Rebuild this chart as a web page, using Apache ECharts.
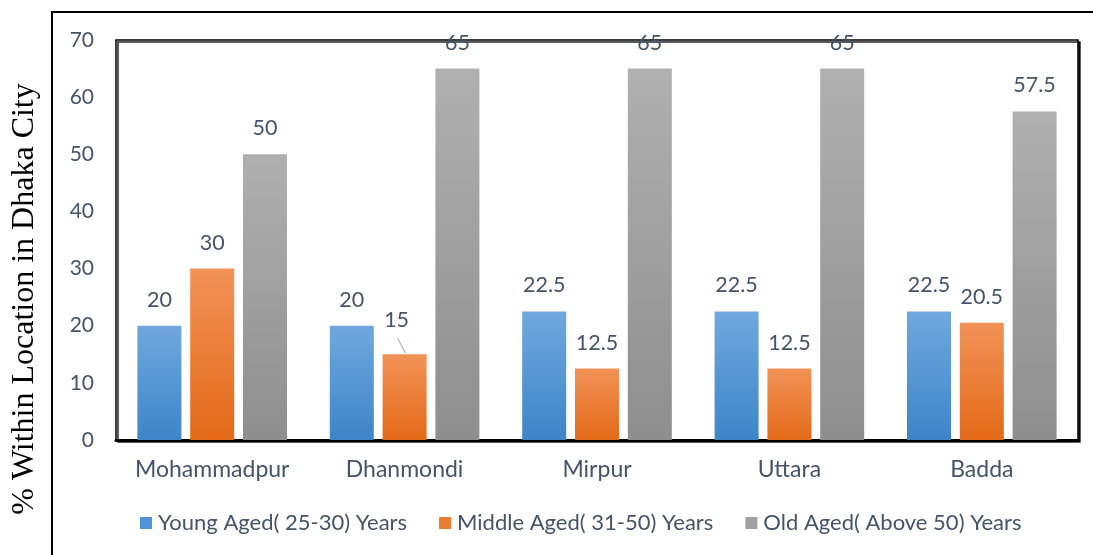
<!DOCTYPE html>
<html>
<head>
<meta charset="utf-8">
<script src="https://cdn.jsdelivr.net/npm/echarts@6/dist/echarts.min.js"></script>
<style>
  html, body { margin: 0; padding: 0; background: #fff; }
  #chart { width: 1093px; height: 555px; }
</style>
</head>
<body>
<div id="chart"></div>
<script>
// Survey share by age group for each area of Dhaka
const locations = ['Mohammadpur', 'Dhanmondi', 'Mirpur', 'Uttara', 'Badda'];
const youngAged = [20, 20, 22.5, 22.5, 22.5];
const middleAged = [30, 15, 12.5, 12.5, 20.5];
const oldAged = [50, 65, 65, 65, 57.5];
const seriesNames = ['Young Aged( 25-30) Years', 'Middle Aged( 31-50) Years', 'Old Aged( Above 50) Years'];
const yTicks = { min: 0, max: 70, interval: 10 };

const textColor = '#44546A';
const font = 'Lato';

function grad(top, bottom) {
  return new echarts.graphic.LinearGradient(0, 0, 0, 1, [
    { offset: 0, color: top },
    { offset: 1, color: bottom }
  ]);
}

const palette = [
  grad('#70A8DE', '#3D85C8'),
  grad('#F29257', '#E36A18'),
  grad('#B0B0B0', '#8E8E8E')
];
const legendColors = ['#4E94D6', '#EC7C30', '#A0A0A0'];

function barSeries(name, values, idx) {
  return {
    name: name,
    type: 'bar',
    data: values,
    barWidth: 44,
    barGap: '20%',
    itemStyle: { color: palette[idx] },
    label: {
      show: true,
      position: 'top',
      distance: 15,
      color: textColor,
      fontFamily: font,
      fontSize: 21.5
    }
  };
}

// index of the Middle Aged label that sits lifted off its bar
const liftedIndex = 1;
const middle = barSeries(seriesNames[1], middleAged, 1);
middle.labelLayout = function (p) {
  return p.dataIndex === liftedIndex ? { dx: -8, dy: -8 } : {};
};

const chart = echarts.init(document.getElementById('chart'), null, { renderer: 'canvas' });
chart.setOption({
  backgroundColor: '#fff',
  animation: false,
  color: legendColors,
  grid: {
    left: 116, right: 15, top: 40, bottom: 115,
    show: true,
    backgroundColor: '#fff',
    borderColor: '#000',
    borderWidth: 1.5,
    shadowColor: 'rgba(0,0,0,0.85)',
    shadowOffsetX: 2,
    shadowOffsetY: 2,
    shadowBlur: 0
  },
  legend: {
    left: 135,
    top: 507,
    itemWidth: 12,
    itemHeight: 12,
    itemGap: 32,
    icon: 'rect',
    textStyle: { color: textColor, fontFamily: font, fontSize: 22, padding: [0, 0, 0, 1] },
    data: seriesNames.map((n, i) => ({ name: n, itemStyle: { color: legendColors[i] } }))
  },
  xAxis: {
    type: 'category',
    data: locations,
    axisLine: { show: true, lineStyle: { color: '#000', width: 3 } },
    axisTick: { show: false },
    axisLabel: { interval: 0, color: textColor, fontFamily: font, fontSize: 23, margin: 18 }
  },
  yAxis: {
    type: 'value',
    min: yTicks.min,
    max: yTicks.max,
    interval: yTicks.interval,
    splitLine: { show: false },
    axisLine: { show: false },
    axisTick: { show: false },
    axisLabel: { color: textColor, fontFamily: font, fontSize: 21, margin: 22 }
  },
  graphic: [
    {
      type: 'rect',
      shape: { x: 52, y: 12, width: 1100, height: 700 },
      style: { fill: 'none', stroke: '#000', lineWidth: 2 },
      z: 0
    },
    {
      type: 'text',
      x: 25, y: 299,
      rotation: Math.PI / 2,
      style: {
        text: '% Within Location in Dhaka City',
        fill: '#000',
        font: '32px "Liberation Serif", "Times New Roman", serif',
        textAlign: 'center',
        textVerticalAlign: 'middle'
      }
    }
  ],
  series: [
    barSeries(seriesNames[0], youngAged, 0),
    middle,
    barSeries(seriesNames[2], oldAged, 2)
  ]
});

// leader line from the lifted label down to the top of its bar, placed from the bar's own layout
const barLayout = chart.getModel().getSeriesByIndex(1).getData().getItemLayout(liftedIndex);
const barCx = barLayout.x + barLayout.width / 2;
const barTop = Math.min(barLayout.y, barLayout.y + barLayout.height);
chart.setOption({
  graphic: [
    {
      id: 'leader',
      type: 'line',
      shape: { x1: barCx - 7, y1: barTop - 16, x2: barCx + 1, y2: barTop - 1 },
      style: { stroke: '#A9B8CB', lineWidth: 1.3 },
      z: 10
    }
  ]
});
</script>
</body>
</html>
